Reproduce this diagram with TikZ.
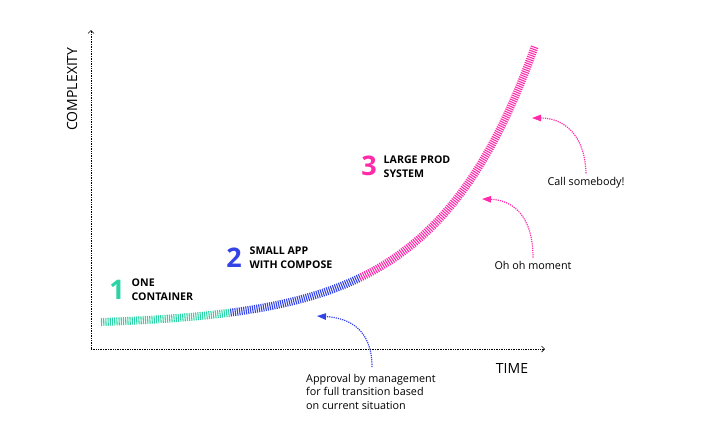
\documentclass[tikz,border=0pt]{standalone}
\usepackage{fontspec}
\setmainfont{Open Sans}
\usetikzlibrary{arrows.meta}

\definecolor{stageone}{HTML}{2CD3A5}
\definecolor{stagetwo}{HTML}{3443E6}
\definecolor{stagethree}{HTML}{FF2BAA}

\tikzset{
  axis/.style={densely dotted,line width=0.7pt,-{Straight Barb[length=3pt,width=6pt]}},
  growth/.style={line width=8pt,dash pattern=on 1.1pt off 1.1pt},
  note/.style={densely dotted,line width=1.2pt,-{Triangle[length=9pt,width=6.5pt]}},
  bignum/.style={font=\fontsize{27}{27}\selectfont\bfseries,inner sep=0pt},
  stage/.style={font=\fontsize{10.6}{14.5}\selectfont\bfseries,align=left,anchor=west,inner sep=0pt},
  remark/.style={font=\fontsize{10.8}{13.5}\selectfont,align=left,inner sep=0pt}
}

% exponential growth, in picture pixels
\newcommand{\growthcurve}{plot[domain=101:535,samples=120] (\x,{325.5-3.49*exp(0.0101*(\x-101))})}

\begin{document}
\begin{tikzpicture}[x=1pt,y=-1pt]
\useasboundingbox (0,0) rectangle (712,445);

% axes
\coordinate (origin) at (91,349);
\coordinate (ytop) at (91,30);
\coordinate (xend) at (545,349);
\draw[axis] (origin) -- (ytop);
\draw[axis] (origin) -- (xend);
\node[rotate=90,font=\fontsize{14}{14}\selectfont] (ylabel) at (72,89) {COMPLEXITY};
\node[font=\fontsize{14}{14}\selectfont] (xlabel) at (512,368) {TIME};

% the curve, split in three colours
\begin{scope}
  \clip (0,0) rectangle (230,445);
  \draw[growth,stageone] \growthcurve;
\end{scope}
\begin{scope}
  \clip (230,0) rectangle (360,445);
  \draw[growth,stagetwo] \growthcurve;
\end{scope}
\begin{scope}
  \clip (360,0) rectangle (712,445);
  \draw[growth,stagethree] \growthcurve;
\end{scope}

% stages
\node[bignum,stageone] (one) at (117,290) {1};
\node[stage] (onetext) at (131.5,289.5) {ONE\\CONTAINER};
\node[bignum,stagetwo] (two) at (234,258) {2};
\node[stage] (twotext) at (249.5,257.5) {SMALL APP\\WITH COMPOSE};
\node[bignum,stagethree] (three) at (369,166) {3};
\node[stage] (threetext) at (383.5,166.5) {LARGE PROD\\SYSTEM};

% remarks
\node[remark,anchor=north west] (approval) at (306,374) {Approval by management\\for full transition based\\on current situation};
\node[remark] (ohoh) at (533,265) {Oh oh moment};
\node[remark] (call) at (586,183) {Call somebody!};

\coordinate (approvaltip) at (317,316);
\coordinate (ohohtip) at (482,199);
\coordinate (calltip) at (532,118);
\draw[note,stagetwo] (372,367) .. controls (372,330) and (350,318) .. (approvaltip);
\draw[note,stagethree] (ohoh.north) ++(0,-3) .. controls (533,215) and (512,200) .. (ohohtip);
\draw[note,stagethree] (call.north) ++(0,-4) .. controls (585,134) and (563,118) .. (calltip);
\end{tikzpicture}
\end{document}
